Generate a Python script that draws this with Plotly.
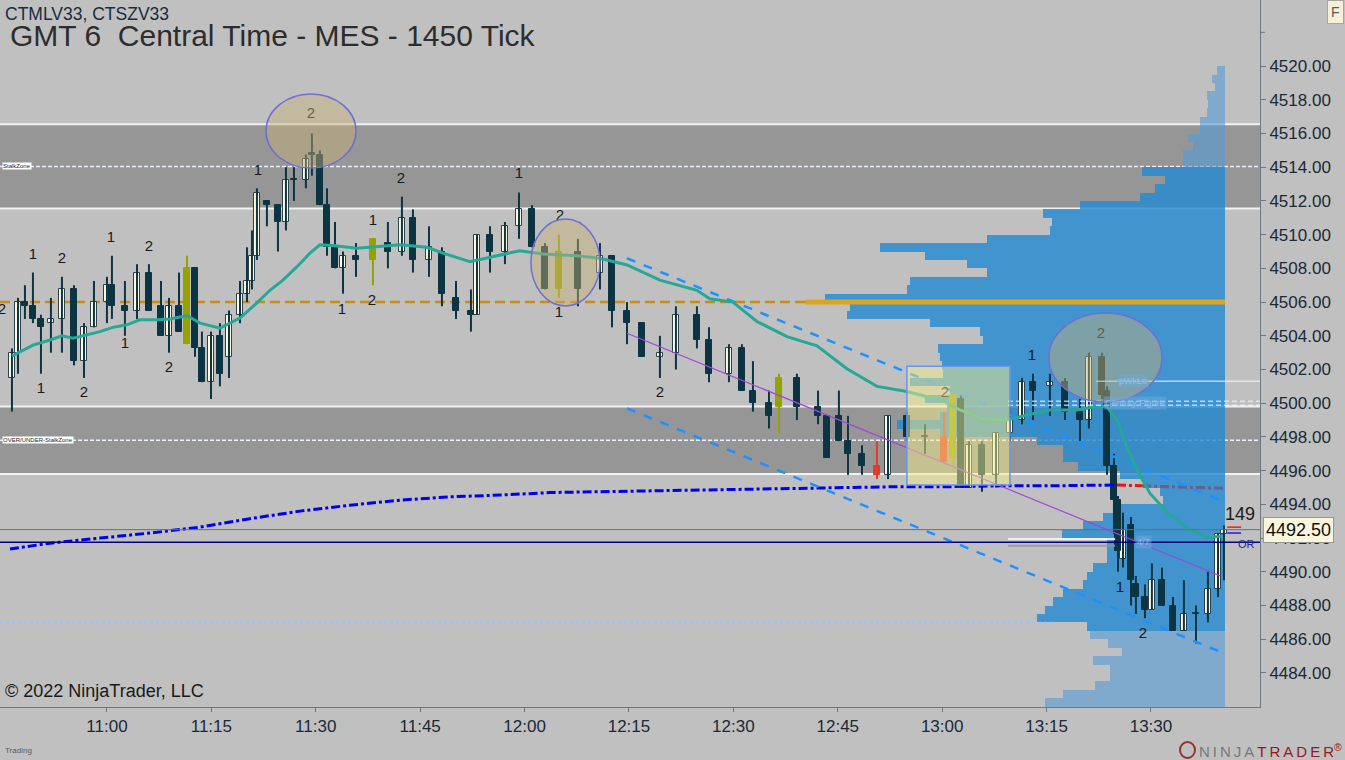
import plotly.graph_objects as go

DAY = "2022-09-15"

# ---- candles (1450 tick bars) ----
bar_times = [
    "10:46:21", "10:47:13", "10:48:13", "10:49:22", "10:50:31", "10:51:57", "10:53:32", "10:55:16", "10:56:42", "10:58:08",
    "11:00:00", "11:00:43", "11:02:35", "11:04:19", "11:06:02", "11:07:46", "11:08:55", "11:10:21", "11:11:30", "11:12:39",
    "11:13:39", "11:14:57", "11:16:14", "11:17:32", "11:19:07", "11:20:07", "11:20:50", "11:21:33", "11:22:59", "11:24:34",
    "11:25:43", "11:26:52", "11:28:35", "11:29:27", "11:30:36", "11:31:37", "11:32:46", "11:33:55", "11:35:47", "11:38:13",
    "11:40:22", "11:42:23", "11:43:58", "11:46:16", "11:48:08", "11:50:09", "11:52:18", "11:53:10", "11:55:02", "11:57:11",
    "11:59:12", "12:01:04", "12:02:56", "12:04:56", "12:07:40", "12:10:50", "12:12:34", "12:14:43", "12:16:52", "12:19:27",
    "12:21:45", "12:24:46", "12:26:30", "12:29:22", "12:31:14", "12:32:49", "12:35:07", "12:36:33", "12:39:08", "12:42:10",
    "12:43:27", "12:45:10", "12:46:28", "12:48:29", "12:50:38", "12:52:13", "12:54:56", "12:57:32", "13:00:16", "13:01:33",
    "13:02:42", "13:03:51", "13:05:43", "13:07:44", "13:09:44", "13:11:28", "13:13:03", "13:15:29", "13:17:39", "13:19:48",
    "13:21:05", "13:22:58", "13:23:41", "13:24:41", "13:25:16", "13:25:59", "13:27:08", "13:27:50", "13:29:08", "13:30:08",
    "13:31:35", "13:33:10", "13:34:44", "13:36:28", "13:38:11", "13:39:38", "13:40:29",
]
opens = [
    4501.5, 4503, 4506, 4505.75, 4505, 4504.75, 4505, 4506.75, 4502.5, 4504.5,
    4506, 4507, 4505.75, 4505.5, 4507.75, 4505.75, 4504, 4505.75, 4508, 4508,
    4503.25, 4501.25, 4504, 4502.75, 4505.25, 4506.5, 4507.25, 4508.75, 4512, 4511.75,
    4510.75, 4513.25, 4513.25, 4514.75, 4514.75, 4511.75, 4509.25, 4508, 4508.75, 4509.75,
    4509.5, 4509, 4511, 4508.5, 4509, 4506.25, 4505.5, 4505.25, 4510, 4509,
    4510.5, 4511.5, 4509.25, 4509, 4509, 4507.75, 4508.75, 4505.5, 4504.75, 4502.75,
    4503, 4505.25, 4503.75, 4501.75, 4503.25, 4500.75, 4500, 4501.5, 4501.5, 4499.75,
    4499.25, 4499.25, 4497.75, 4497, 4496.25, 4495.75, 4499.25, 4498, 4498, 4500.5,
    4500.25, 4495, 4497.5, 4495.75, 4498.25, 4499, 4501.25, 4501, 4501.25, 4499.5,
    4499, 4502.75, 4500.75, 4496.25, 4494.25, 4490.75, 4492.75, 4489.25, 4488.5, 4487.75,
    4489.5, 4488, 4486.5, 4487.5, 4487.5, 4489, 4492.25,
]
highs = [
    4503.25, 4506.25, 4507, 4507.75, 4505.25, 4506.25, 4507.5, 4507, 4504.75, 4507.25,
    4507.5, 4508.75, 4507.25, 4508.25, 4508.25, 4507.25, 4506.25, 4507.75, 4508.75, 4508,
    4504.25, 4504.25, 4504.75, 4505.5, 4507.25, 4509.25, 4510.25, 4512.75, 4512, 4511.75,
    4514, 4514, 4514.75, 4516, 4515, 4512.75, 4510.75, 4509, 4509.5, 4509.75,
    4510.75, 4512.25, 4511.5, 4510.5, 4509.25, 4507.25, 4506.75, 4510, 4510.5, 4510.75,
    4512.5, 4511.75, 4509.5, 4510, 4509.75, 4509.5, 4508.75, 4506, 4504.75, 4504,
    4505.75, 4505.75, 4504.5, 4503.5, 4503.5, 4502.5, 4500.75, 4501.75, 4501.75, 4500.75,
    4499.25, 4500.75, 4499.25, 4497.5, 4497.75, 4499.25, 4499.5, 4498.75, 4499.5, 4500.5,
    4500.5, 4497.75, 4497.75, 4498.25, 4499.75, 4501.5, 4501.75, 4501.75, 4501.5, 4500.25,
    4503, 4503, 4501, 4497, 4494.5, 4493.5, 4493.25, 4489.75, 4489.25, 4490.5,
    4490.25, 4488.5, 4489.5, 4488, 4490, 4492.25, 4492.75,
]
lows = [
    4499.5, 4501.75, 4505, 4504.75, 4501.75, 4503, 4503, 4502.25, 4501.5, 4504.5,
    4504.75, 4505, 4504, 4505, 4505.5, 4504, 4503, 4504.25, 4503.5, 4502.75,
    4501.25, 4500.25, 4501, 4501.5, 4504.75, 4506, 4506.75, 4508.5, 4510.5, 4509,
    4510.25, 4512, 4512.75, 4513.5, 4511.75, 4508.75, 4508, 4506.5, 4507.5, 4507,
    4508, 4508.75, 4507.75, 4507.5, 4505.75, 4505, 4504.25, 4505.25, 4507.75, 4508.25,
    4509.75, 4509.25, 4506.75, 4506.25, 4505.75, 4506.75, 4504.5, 4503.5, 4502.75, 4501.5,
    4502, 4503.25, 4501.25, 4501.25, 4500.75, 4499.5, 4498.5, 4498.25, 4499, 4498.75,
    4496.75, 4497.75, 4495.75, 4495.75, 4495.5, 4495.5, 4497.75, 4497, 4496.5, 4496.25,
    4495, 4495, 4494.75, 4495, 4497.75, 4498.75, 4499, 4499.25, 4499, 4497.75,
    4498.5, 4500.25, 4495.75, 4492.25, 4490, 4490.25, 4488, 4487.5, 4487.25, 4487.75,
    4488, 4486.5, 4486.5, 4485.75, 4487, 4488.5, 4489.5,
]
closes = [
    4503, 4506, 4505.75, 4505, 4504.5, 4505, 4506.75, 4502.5, 4504.5, 4506,
    4507, 4505.75, 4505.5, 4507.75, 4505.5, 4504, 4505.75, 4504.25, 4503.5, 4503.25,
    4501.25, 4504, 4501.75, 4505.25, 4506.5, 4507.25, 4508.75, 4512.5, 4511.75, 4510.75,
    4513.25, 4513.25, 4514.5, 4514.75, 4511.75, 4509.25, 4508, 4508.75, 4508.5, 4508.5,
    4509, 4511, 4508.5, 4509.25, 4506.5, 4505.5, 4505.25, 4510, 4509, 4510.5,
    4511.5, 4509.25, 4506.75, 4506.75, 4506.75, 4508.75, 4505.5, 4504.75, 4502.75, 4503,
    4505.25, 4503.75, 4501.75, 4503.25, 4500.75, 4500, 4499.25, 4499.75, 4499.75, 4499.25,
    4496.75, 4497.75, 4497, 4496.25, 4495.75, 4499.25, 4498, 4498, 4496.5, 4496.75,
    4495, 4497.5, 4495.75, 4498.25, 4499, 4501.25, 4500.75, 4501.25, 4499.5, 4499,
    4502.75, 4500.5, 4496.25, 4494.25, 4491.25, 4492.5, 4489.5, 4488.5, 4487.75, 4489.5,
    4488, 4486.5, 4487.5, 4487.5, 4489, 4492.25, 4492.5,
]
signal_bars = [18, 39, 53, 67, 79]   # olive painted bars
warning_bars = [74, 78]              # red painted bars

# ---- indicators ----
ema_times = [
    "10:46:21", "10:49:22", "10:51:49", "10:53:32", "10:55:07", "10:57:08", "10:58:59", "11:00:52", "11:02:52", "11:04:44",
    "11:07:11", "11:09:03", "11:11:30", "11:13:22", "11:15:14", "11:16:14", "11:19:07", "11:21:33", "11:23:25", "11:25:17",
    "11:27:18", "11:29:10", "11:30:36", "11:32:28", "11:35:55", "11:39:39", "11:42:06", "11:45:59", "11:48:17", "11:52:10",
    "11:55:28", "11:59:20", "12:02:39", "12:07:32", "12:10:50", "12:14:43", "12:19:27", "12:24:46", "12:26:38", "12:29:56",
    "12:33:23", "12:37:42", "12:42:01", "12:46:19", "12:50:38", "12:54:56", "13:00:07", "13:02:34", "13:05:52", "13:09:19",
    "13:12:11", "13:15:29", "13:19:22", "13:22:40", "13:23:41", "13:25:07", "13:26:33", "13:27:59", "13:29:52", "13:32:18",
    "13:35:10", "13:38:03", "13:40:20",
]
ema_values = [
    4502.8, 4503.45, 4503.75, 4504.0, 4503.85, 4504.05, 4504.25, 4504.5, 4504.65, 4504.95,
    4504.95, 4505.0, 4505.2, 4504.75, 4504.55, 4504.45, 4505.05, 4505.95, 4506.7, 4507.3,
    4508.1, 4508.9, 4509.4, 4509.35, 4509.2, 4509.3, 4509.4, 4509.25, 4508.9, 4508.4,
    4508.7, 4509.05, 4508.85, 4508.75, 4508.6, 4508.2, 4507.3, 4506.7, 4506.2, 4506.0,
    4504.85, 4503.95, 4503.4, 4502.05, 4501.0, 4500.7, 4500.15, 4499.6, 4499.05, 4499.0,
    4499.3, 4499.6, 4499.6, 4499.85, 4499.8, 4499.0, 4497.4, 4496.05, 4494.65, 4493.55,
    4492.6, 4492.05, 4492.1,
]
vwap_times = [
    "10:46:04", "10:51:49", "10:58:59", "11:06:11", "11:13:22", "11:20:33", "11:27:44", "11:34:55", "11:42:06", "11:49:17",
    "11:56:28", "12:03:39", "12:10:50", "12:18:01", "12:25:12", "12:32:23", "12:39:34", "12:46:45", "12:53:56", "13:01:07",
    "13:08:18", "13:15:29", "13:22:40", "13:25:07", "13:28:43", "13:40:38",
]
vwap_values = [
    4491.35, 4491.7, 4492.0, 4492.3, 4492.65, 4493.15, 4493.6, 4493.95, 4494.25, 4494.45,
    4494.55, 4494.7, 4494.75, 4494.8, 4494.85, 4494.9, 4494.95, 4495.0, 4495.05, 4495.05,
    4495.1, 4495.1, 4495.15, 4495.15, 4495.1, 4494.95,
]

# regression channel drawn on the chart
channel_times = ["12:14:43", "13:40:00"]
channel_upper = [4508.6, 4494.25]
channel_mid = [4504.15, 4489.75]
channel_lower = [4499.7, 4485.25]

# swing labels
swing_times = [
    "10:44:55", "10:49:22", "10:53:32", "10:50:31", "10:56:42", "11:00:34", "11:06:02", "11:02:35", "11:08:55", "11:21:42",
    "11:29:19", "11:42:14", "11:33:46", "11:38:13", "11:38:04", "11:59:12", "12:05:05", "12:04:56", "12:19:27", "13:00:24",
    "13:12:54", "13:22:49", "13:25:33", "13:28:51",
]
swing_prices = [
    4505.5, 4508.8, 4508.55, 4500.8, 4500.6, 4509.8, 4509.25, 4503.5, 4502.1, 4513.75,
    4517.15, 4513.3, 4505.5, 4510.8, 4506.05, 4513.6, 4511.1, 4505.35, 4500.6, 4500.6,
    4502.8, 4504.1, 4489.0, 4486.3,
]
swing_texts = [
    "2", "1", "2", "1", "2", "1", "2", "1", "2", "1",
    "2", "2", "1", "1", "2", "1", "2", "1", "2", "2",
    "1", "2", "1", "2",
]

# ---- volume profile (0.5 pt rows) ----
profile_prices = [
    4482.25, 4482.75, 4483.25, 4483.75, 4484.25, 4484.75, 4485.25, 4485.75, 4486.25, 4486.75,
    4487.25, 4487.75, 4488.25, 4488.75, 4489.25, 4489.75, 4490.25, 4490.75, 4491.25, 4491.75,
    4492.25, 4492.75, 4493.25, 4493.75, 4494.25, 4494.75, 4495.25, 4495.75, 4496.25, 4496.75,
    4497.25, 4497.75, 4498.25, 4498.75, 4499.25, 4499.75, 4500.25, 4500.75, 4501.25, 4501.75,
    4502.25, 4502.75, 4503.25, 4503.75, 4504.25, 4504.75, 4505.25, 4505.75, 4506.25, 4506.75,
    4507.25, 4507.75, 4508.25, 4508.75, 4509.25, 4509.75, 4510.25, 4510.75, 4511.25, 4511.75,
    4512.25, 4512.75, 4513.25, 4513.75, 4514.25, 4514.75, 4515.25, 4515.75, 4516.25, 4516.75,
    4517.25, 4517.75, 4518.25, 4518.75, 4519.25, 4519.75,
]
profile_volume = [
    180, 162, 130, 115, 115, 132, 103, 117, 135, 138,
    188, 180, 172, 162, 142, 138, 132, 118, 118, 118,
    163, 142, 122, 105, 62, 65, 82, 105, 147, 162,
    162, 188, 285, 328, 285, 278, 300, 275, 315, 282,
    283, 285, 287, 242, 245, 295, 378, 375, 400, 318,
    315, 238, 258, 300, 345, 238, 175, 173, 182, 145,
    85, 70, 60, 83, 42, 42, 32, 37, 25, 25,
    18, 17, 18, 10, 13, 8,
]
value_area = (4486.5, 4514.0)
poc_price = 4506.0

# ---- levels ----
upper_zone = (4511.55, 4516.55)
upper_zone_mid = 4514.05
lower_zone = (4495.8, 4499.8)
lower_zone_mid = 4497.8
last_price = 4492.5
or_level = 4491.75
dotted_level = 4487.0
pwklo_level = 4501.3
century_level = 4500.0

y_ticks = list(range(4484, 4521, 2))
x_ticks = ["11:00", "11:15", "11:30", "11:45", "12:00", "12:15", "12:30", "12:45", "13:00", "13:15", "13:30"]


def ts(t):
    return f"{DAY} {t}"


BG = "rgb(192,192,192)"
DARK = "rgb(13,52,66)"
CREAM = "rgb(255,250,226)"
OLIVE = "rgb(150,162,0)"
RED = "rgb(228,58,38)"
TXT = "rgb(25,42,55)"
AXIS = "rgb(110,120,130)"
FONT = "Liberation Sans, Arial, sans-serif"

fig = go.Figure()

# profile on hidden numeric axis (drawn under the price subplot)
in_va = [value_area[0] <= p <= value_area[1] for p in profile_prices]
fig.add_trace(go.Bar(
    x=[v for v, k in zip(profile_volume, in_va) if k],
    y=[p for p, k in zip(profile_prices, in_va) if k],
    orientation="h", width=0.5, xaxis="x", yaxis="y",
    marker=dict(color="rgba(36,138,209,0.81)", line=dict(width=0)),
    hoverinfo="skip"))
fig.add_trace(go.Bar(
    x=[v for v, k in zip(profile_volume, in_va) if not k],
    y=[p for p, k in zip(profile_prices, in_va) if not k],
    orientation="h", width=0.5, xaxis="x", yaxis="y",
    marker=dict(color="rgba(85,155,214,0.6)", line=dict(width=0)),
    hoverinfo="skip"))

# candle groups
groups = {"up": [], "down": [], "olive": [], "red": []}
for i in range(len(bar_times)):
    if i in signal_bars:
        groups["olive"].append(i)
    elif i in warning_bars:
        groups["red"].append(i)
    elif closes[i] > opens[i]:
        groups["up"].append(i)
    else:
        groups["down"].append(i)

styles = {
    "up": (CREAM, "rgb(45,65,75)", DARK),
    "down": (DARK, DARK, DARK),
    "olive": (OLIVE, OLIVE, OLIVE),
    "red": (RED, RED, RED),
}

for name, idx in groups.items():
    fill, edge, wick = styles[name]
    wx, wy = [], []
    for i in idx:
        wx += [ts(bar_times[i]), ts(bar_times[i]), None]
        wy += [lows[i], highs[i], None]
    fig.add_trace(go.Scatter(x=wx, y=wy, mode="lines", xaxis="x2", yaxis="y",
                             line=dict(color=wick, width=2), hoverinfo="skip"))
    fig.add_trace(go.Bar(
        x=[ts(bar_times[i]) for i in idx],
        y=[max(abs(closes[i] - opens[i]), 0.07) for i in idx],
        base=[min(opens[i], closes[i]) for i in idx],
        width=54000, xaxis="x2", yaxis="y",
        marker=dict(color=fill, line=dict(color=edge, width=1)),
        hoverinfo="skip"))

# vwap (blue, then red and grey segments)
vt = [ts(t) for t in vwap_times]
fig.add_trace(go.Scatter(x=vt[:24], y=vwap_values[:24], mode="lines", xaxis="x2", yaxis="y",
                         line=dict(color="rgb(0,0,235)", width=3, dash="dashdot"), hoverinfo="skip"))
fig.add_trace(go.Scatter(x=vt[23:25], y=vwap_values[23:25], mode="lines", xaxis="x2", yaxis="y",
                         line=dict(color="rgb(235,20,20)", width=3, dash="dashdot"), hoverinfo="skip"))
fig.add_trace(go.Scatter(x=vt[24:], y=vwap_values[24:], mode="lines", xaxis="x2", yaxis="y",
                         line=dict(color="rgb(105,95,135)", width=3, dash="dashdot"), hoverinfo="skip"))

# channel
ct = [ts(t) for t in channel_times]
for vals, col, w, d in [(channel_upper, "rgb(30,144,255)", 2.5, "dash"),
                        (channel_lower, "rgb(30,144,255)", 2.5, "dash"),
                        (channel_mid, "rgb(160,70,220)", 1.2, "solid")]:
    fig.add_trace(go.Scatter(x=ct, y=vals, mode="lines", xaxis="x2", yaxis="y",
                             line=dict(color=col, width=w, dash=d), hoverinfo="skip"))

# ema
fig.add_trace(go.Scatter(x=[ts(t) for t in ema_times], y=ema_values, mode="lines",
                         xaxis="x2", yaxis="y", line=dict(color="rgb(38,168,150)", width=3),
                         hoverinfo="skip"))

# swing labels
fig.add_trace(go.Scatter(x=[ts(t) for t in swing_times], y=swing_prices, text=swing_texts,
                         mode="text", xaxis="x2", yaxis="y",
                         textfont=dict(size=15, color="rgb(25,25,25)", family=FONT),
                         hoverinfo="skip"))

shapes = []
# stalk zones
for lo, hi in (upper_zone, lower_zone):
    shapes.append(dict(type="rect", xref="paper", yref="y", x0=0, x1=1, y0=lo, y1=hi,
                       fillcolor="rgb(150,150,150)", line=dict(width=0), layer="below"))
    for lv in (lo, hi):
        shapes.append(dict(type="line", xref="paper", yref="y", x0=0, x1=1, y0=lv, y1=lv,
                           line=dict(color="rgb(242,242,242)", width=2), layer="below"))
for lv in (upper_zone_mid, lower_zone_mid):
    shapes.append(dict(type="line", xref="paper", yref="y", x0=0, x1=1, y0=lv, y1=lv,
                       line=dict(color="rgb(235,240,255)", width=1.5, dash="4px,2px"), layer="below"))
# naked poc dashed + current poc
shapes.append(dict(type="line", xref="paper", yref="y", x0=0, x1=0.64, y0=poc_price, y1=poc_price,
                   line=dict(color="rgb(200,140,20)", width=2.5, dash="10px,5px"), layer="below"))
shapes.append(dict(type="line", xref="x2", yref="y", x0=ts("12:40:17"), x1=ts("13:40:38"),
                   y0=poc_price, y1=poc_price, line=dict(color="rgb(218,165,32)", width=5)))
# price lines
shapes.append(dict(type="line", xref="paper", yref="y", x0=0, x1=1, y0=last_price, y1=last_price,
                   line=dict(color="rgb(110,110,110)", width=1)))
shapes.append(dict(type="line", xref="paper", yref="y", x0=0, x1=1, y0=or_level, y1=or_level,
                   line=dict(color="rgb(0,0,128)", width=1.5)))
shapes.append(dict(type="line", xref="paper", yref="y", x0=0, x1=0.835, y0=dotted_level, y1=dotted_level,
                   line=dict(color="rgb(160,190,240)", width=1.5, dash="dot")))
shapes.append(dict(type="line", xref="paper", yref="y", x0=0.87, x1=1, y0=pwklo_level, y1=pwklo_level,
                   line=dict(color="rgba(240,245,255,0.7)", width=1.5)))
for off in (-0.12, 0.12):
    shapes.append(dict(type="line", xref="paper", yref="y", x0=0.8, x1=1,
                       y0=century_level + off, y1=century_level + off,
                       line=dict(color="rgba(240,245,255,0.7)", width=1.5, dash="5px,3px")))
shapes.append(dict(type="line", xref="paper", yref="y", x0=0.8, x1=0.885, y0=4491.95, y1=4491.95,
                   line=dict(color="rgba(245,245,245,0.9)", width=2)))
shapes.append(dict(type="line", xref="paper", yref="y", x0=0.8, x1=0.885, y0=4491.55, y1=4491.55,
                   line=dict(color="rgba(150,150,150,0.9)", width=2)))
shapes.append(dict(type="line", xref="paper", yref="y", x0=0.974, x1=0.985, y0=4492.65, y1=4492.65,
                   line=dict(color="rgb(230,30,30)", width=1.5)))
shapes.append(dict(type="line", xref="paper", yref="y", x0=0.974, x1=0.985, y0=4492.3, y1=4492.3,
                   line=dict(color="rgb(30,30,230)", width=1.5)))
# unlabeled axis tick above the top label
shapes.append(dict(type="line", xref="paper", yref="y", x0=1, x1=1 + 5 / 1260, y0=4522, y1=4522,
                   line=dict(color=AXIS, width=1)))
# highlight box and ellipses
shapes.append(dict(type="rect", xref="x2", yref="y", x0=ts("12:54:56"), x1=ts("13:09:44"),
                   y0=4495.15, y1=4502.2, fillcolor="rgba(245,235,140,0.5)",
                   line=dict(color="rgb(100,150,240)", width=1.5)))
for x0, x1, y0, y1 in [("11:22:51", "11:35:47", 4513.95, 4518.34),
                       ("12:00:55", "12:10:50", 4505.77, 4510.93),
                       ("13:15:20", "13:31:35", 4500.07, 4505.35)]:
    shapes.append(dict(type="circle", xref="x2", yref="y", x0=ts(x0), x1=ts(x1), y0=y0, y1=y1,
                       fillcolor="rgba(200,178,120,0.45)",
                       line=dict(color="rgb(110,110,215)", width=1.5)))
# logo ring next to the brand text
shapes.append(dict(type="circle", xref="paper", yref="paper",
                   x0=1180 / 1260, x1=1195 / 1260, y0=(707 - 758) / 707, y1=(707 - 742) / 707,
                   line=dict(color="rgb(150,50,45)", width=2)))

spaced = "\u2009".join
ann = [
    dict(text="CTMLV33, CTSZV33", x=3 / 1260, y=1 - 14 / 707, xanchor="left", yanchor="middle",
         font=dict(size=17.5, color="rgb(20,45,65)")),
    dict(text="GMT 6\u00a0 Central Time - MES - 1450 Tick", x=8 / 1260, y=1 - 35 / 707,
         xanchor="left", yanchor="middle", font=dict(size=30, color="rgb(45,45,45)")),
    dict(text="\u00a9 2022 NinjaTrader, LLC", x=3 / 1260, y=1 - 691 / 707, xanchor="left",
         yanchor="middle", font=dict(size=18, color="rgb(25,25,25)")),
    dict(text="Trading", x=3 / 1260, y=(707 - 750) / 707, xanchor="left", yanchor="middle",
         font=dict(size=8, color="rgb(90,90,90)")),
    dict(text="<span style='color:rgb(120,120,120)'>" + spaced("NINJA") + "\u2009</span>"
              "<span style='color:rgb(150,25,30)'>" + spaced("TRADER") + "</span>"
              "<sup style='color:rgb(150,25,30)'>\u00ae</sup>",
         x=1344 / 1260, y=(707 - 750) / 707, xanchor="right", yanchor="middle",
         font=dict(size=15)),
    dict(text="149", x=1257 / 1260, y=4493.4, yref="y", xanchor="right", yanchor="middle",
         font=dict(size=18, color="rgb(25,25,25)")),
    dict(text="OR", x=1257 / 1260, y=or_level - 0.1, yref="y", xanchor="right", yanchor="middle",
         font=dict(size=11, color="rgb(40,40,130)")),
    dict(text="4492.50", x=1263 / 1260, y=last_price, yref="y", xanchor="left", yanchor="middle",
         bgcolor="rgb(250,246,222)", bordercolor="rgb(150,150,150)", borderwidth=1, borderpad=2,
         font=dict(size=18, color="rgb(15,15,15)")),
    dict(text="F", x=1335 / 1260, y=1 - 12 / 707, xanchor="center", yanchor="middle",
         bgcolor="rgb(245,240,215)", bordercolor="rgb(165,165,165)", borderwidth=1, borderpad=3,
         font=dict(size=14, color="rgb(90,90,90)")),
    dict(text="StalkZone", x=2 / 1260, y=upper_zone_mid, yref="y", xanchor="left", yanchor="middle",
         bgcolor="white", borderpad=0, font=dict(size=6, color="rgb(40,40,40)")),
    dict(text="OVER/UNDER-StalkZone", x=2 / 1260, y=lower_zone_mid, yref="y", xanchor="left",
         yanchor="middle", bgcolor="white", borderpad=0, font=dict(size=6, color="rgb(40,40,40)")),
    dict(text="pWkLo", x=1133 / 1260, y=pwklo_level, yref="y", xanchor="center", yanchor="middle",
         bgcolor="rgba(110,170,220,0.5)", font=dict(size=9, color="rgba(150,195,235,0.9)")),
    dict(text="Century Figure", x=1135 / 1260, y=century_level, yref="y", xanchor="center",
         yanchor="middle", bgcolor="rgba(110,170,220,0.5)",
         font=dict(size=9, color="rgba(150,195,235,0.9)")),
    dict(text="4/7", x=1143 / 1260, y=4491.75, yref="y", xanchor="center", yanchor="middle",
         bgcolor="rgba(110,170,220,0.5)", font=dict(size=9, color="rgba(150,195,235,0.9)")),
]
for a in ann:
    a.setdefault("xref", "paper")
    a.setdefault("yref", "paper")
    a["showarrow"] = False

fig.update_layout(
    width=1345, height=760,
    margin=dict(l=0, r=85, t=0, b=53),
    paper_bgcolor=BG, plot_bgcolor=BG,
    font=dict(family=FONT, color=TXT),
    showlegend=False, barmode="overlay", bargap=0,
    xaxis=dict(domain=[0, 1], range=[1225, -35], visible=False, fixedrange=True),
    xaxis2=dict(type="date", overlaying="x", anchor="y", side="bottom",
                range=[ts("10:44:38"), ts("13:45:40")],
                tickvals=[ts(t) for t in x_ticks], ticktext=x_ticks,
                showgrid=False, zeroline=False, showline=True,
                linecolor=AXIS, linewidth=1,
                ticks="outside", ticklen=4, tickcolor=AXIS,
                tickfont=dict(size=17, color=TXT)),
    yaxis=dict(side="right", anchor="x", range=[4481.98, 4523.92],
               tickvals=y_ticks, ticktext=[f"{v:.2f}" for v in y_ticks],
               showgrid=False, zeroline=False, showline=True,
               linecolor=AXIS, linewidth=1,
               ticks="outside", ticklen=5, tickcolor=AXIS,
               tickfont=dict(size=17, color=TXT)),
    shapes=shapes,
    annotations=ann,
)

fig.write_html("out.html", config={"displayModeBar": False},
               post_script="document.body.style.margin='0';")
